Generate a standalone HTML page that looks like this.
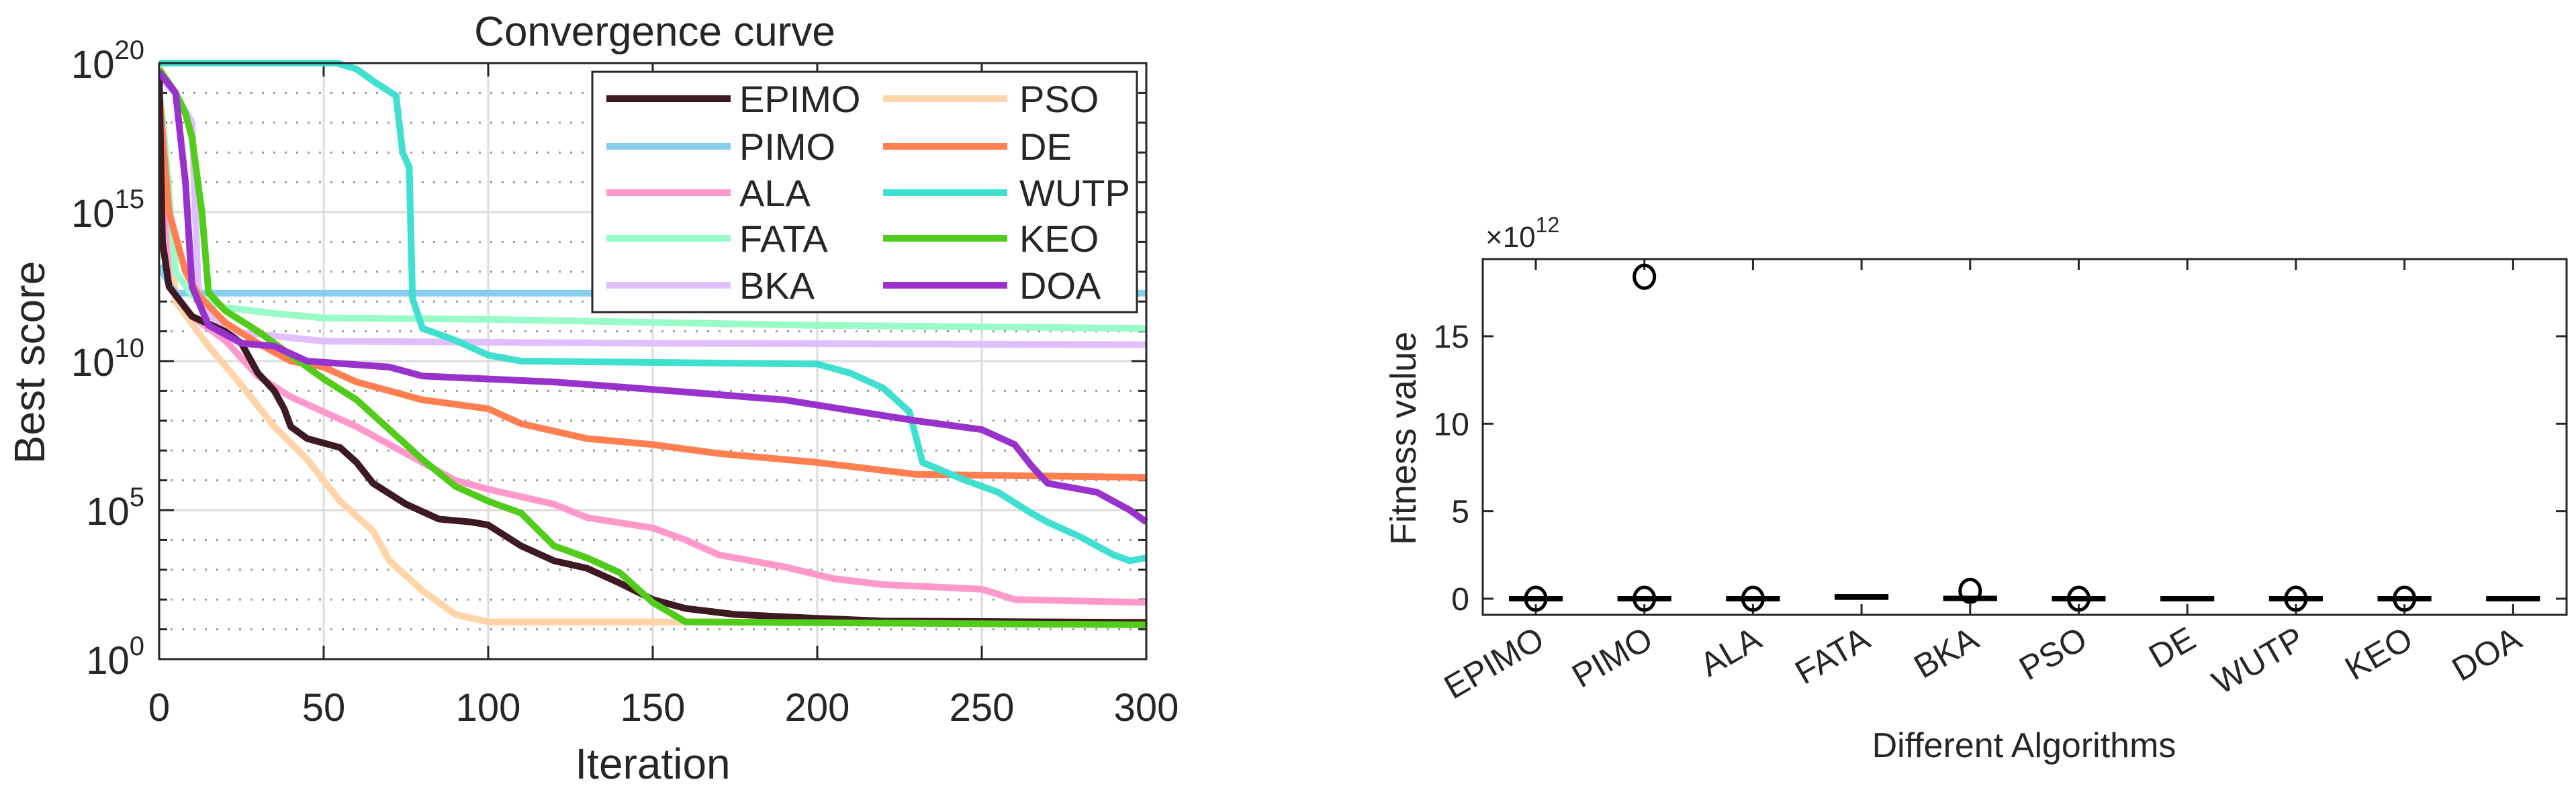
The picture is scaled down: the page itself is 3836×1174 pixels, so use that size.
<!DOCTYPE html>
<html><head><meta charset="utf-8"><style>
html,body{margin:0;padding:0;background:#fff}
svg{display:block}
text{font-family:"Liberation Sans",Arial,sans-serif;fill:#262626}
</style></head><body>
<svg id="svg" width="3836" height="1174" viewBox="0 0 3836 1174" xmlns="http://www.w3.org/2000/svg">
<g id="left"></g>
<g id="right"></g>
</svg>
<script>
// ---- Convergence chart data (iteration, log10 best score) ----
const xTicks=[0,50,100,150,200,250,300];
const yTickExp=[0,5,10,15,20];
const seriesNames=["EPIMO","PIMO","ALA","FATA","BKA","PSO","DE","WUTP","KEO","DOA"];
const seriesColors=["#3d1a22","#87ceeb","#ff99cc","#98fbc8","#e0bfff","#ffd4a8","#ff7f50","#40e0d0","#52cc1a","#9932cc"];
const itEPIMO=[0,1,3,10,20,25,30,35,38,40,45,55,60,65,75,85,95,100,110,120,130,140,150,160,175,200,220,300];
const vEPIMO=[19.7,14,12.5,11.5,11.0,10.6,9.6,9.0,8.4,7.8,7.4,7.1,6.6,5.9,5.2,4.7,4.6,4.5,3.8,3.3,3.05,2.55,2.0,1.7,1.5,1.37,1.28,1.23];
const itPIMO=[0,3,5,300];
const vPIMO=[13.2,12.6,12.28,12.28];
const itALA=[0,1,3,10,20,30,40,50,60,70,80,90,100,120,130,150,160,170,190,205,220,250,260,300];
const vALA=[18.1,16,12.5,11.5,10.7,9.5,8.8,8.3,7.8,7.2,6.6,6.0,5.7,5.2,4.75,4.4,4.0,3.5,3.1,2.7,2.5,2.35,2.0,1.9];
const itFATA=[0,2,5,10,20,35,50,100,150,200,300];
const vFATA=[19.2,17,13,12.2,11.8,11.6,11.45,11.4,11.3,11.2,11.1];
const itBKA=[0,5,8,10,12,20,30,50,150,300];
const vBKA=[19.5,19.0,18.4,18.0,12,11.0,10.9,10.67,10.6,10.55];
const itPSO=[0,3,5,15,25,35,45,55,65,70,80,90,100,300];
const vPSO=[16.5,15,12.0,10.5,9.2,7.8,6.7,5.3,4.3,3.3,2.3,1.5,1.25,1.25];
const itDE=[0,3,8,12,20,30,40,50,60,80,100,110,130,150,170,200,230,300];
const vDE=[19,15,13,12.2,11.3,10.6,10.0,9.8,9.3,8.7,8.4,7.9,7.4,7.2,6.9,6.6,6.2,6.1];
const itWUTP=[0,54,60,65,72,74,76,77,80,90,100,110,200,210,220,228,232,245,255,265,270,280,290,295,300];
const vWUTP=[20,20,19.8,19.4,18.9,17.0,16.5,12.1,11.1,10.7,10.2,10.0,9.9,9.6,9.1,8.3,6.6,6.0,5.6,4.9,4.6,4.1,3.5,3.3,3.4];
const itKEO=[0,5,8,10,12,13,15,20,30,40,50,60,70,80,90,100,110,120,130,140,150,160,300];
const vKEO=[19.8,19.0,18.3,17.5,15.8,15.0,12.3,11.7,11.0,10.2,9.4,8.7,7.7,6.7,5.8,5.3,4.9,3.8,3.4,2.9,1.9,1.25,1.15];
const itDOA=[0,5,8,10,15,25,35,45,70,80,120,150,190,210,230,250,260,265,270,285,295,300];
const vDOA=[19.7,19.0,16.0,12.5,11.2,10.6,10.5,10.0,9.8,9.5,9.3,9.05,8.7,8.35,8.0,7.7,7.2,6.5,5.9,5.6,5.0,4.6];
const seriesIt=[itEPIMO,itPIMO,itALA,itFATA,itBKA,itPSO,itDE,itWUTP,itKEO,itDOA];
const seriesV=[vEPIMO,vPIMO,vALA,vFATA,vBKA,vPSO,vDE,vWUTP,vKEO,vDOA];
const drawOrder=[5,1,2,3,4,6,7,0,8,9];

// ---- Boxplot data (×10^12) ----
const boxCats=["EPIMO","PIMO","ALA","FATA","BKA","PSO","DE","WUTP","KEO","DOA"];
const boxMedian=[0,0,0,0.1,0.02,0,0,0,0,0];
const boxQ1=[0,0,0,0.05,0,0,0,0,0,0];
const boxQ3=[0,0,0,0.15,0.05,0,0,0,0,0];
const outlierCat=[0,1,1,2,4,5,7,8];
const outlierVal=[0,0,18.4,0,0.45,0,0,0];
const boxYTicks=[0,5,10,15];

const NS="http://www.w3.org/2000/svg";
function mk(parent,tag,attrs,txt){const e=document.createElementNS(NS,tag);for(const k in attrs)e.setAttribute(k,attrs[k]);if(txt!==undefined)e.textContent=txt;parent.appendChild(e);return e;}

// ===== Left chart =====
const L=document.getElementById('left');
const x0=237,x1=1707,y0=982,y1=94;
const xs=v=>x0+(v-0)/(300-0)*(x1-x0);
const ys=d=>y0-(d-0)/(20-0)*(y0-y1);
for(let d=1;d<20;d++){if(d%5===0)continue;
 const g=mk(L,'line',{x1:x0,x2:x1,y1:ys(d),y2:ys(d),stroke:'#9a9a9a','stroke-width':3,'stroke-dasharray':'3 14'});
 
 const t1=mk(L,'line',{x1:x0,x2:x0+12,y1:ys(d),y2:ys(d),stroke:'#262626','stroke-width':3});
 
 const t2=mk(L,'line',{x1:x1,x2:x1-12,y1:ys(d),y2:ys(d),stroke:'#262626','stroke-width':3});
 
}
yTickExp.forEach(d=>{
 const g=mk(L,'line',{x1:x0,x2:x1,y1:ys(d),y2:ys(d),stroke:'#dcdcdc','stroke-width':3});
 
 const t=mk(L,'text',{x:x0-22,y:ys(d)+22,'text-anchor':'end','font-size':58});
 
 mk(t,'tspan',{},'10');mk(t,'tspan',{dy:-28,'font-size':40},String(d));
 mk(L,'line',{x1:x0,x2:x0+22,y1:ys(d),y2:ys(d),stroke:'#262626','stroke-width':3});
 mk(L,'line',{x1:x1,x2:x1-22,y1:ys(d),y2:ys(d),stroke:'#262626','stroke-width':3});
});
xTicks.forEach(v=>{
 const g=mk(L,'line',{x1:xs(v),x2:xs(v),y1:y0,y2:y1,stroke:'#dcdcdc','stroke-width':3});
 
 mk(L,'line',{x1:xs(v),x2:xs(v),y1:y0,y2:y0-20,stroke:'#262626','stroke-width':3});
 mk(L,'line',{x1:xs(v),x2:xs(v),y1:y1,y2:y1+20,stroke:'#262626','stroke-width':3});
 const t=mk(L,'text',{x:xs(v),y:1074,'text-anchor':'middle','font-size':58},String(v));
 
});
const clip=mk(L,'clipPath',{id:'lc'});mk(clip,'rect',{x:x0,y:y1-5,width:x1-x0+5,height:y0-y1+5});
drawOrder.forEach(i=>{
 const pts=seriesIt[i].map((it,k)=>xs(it).toFixed(1)+','+ys(seriesV[i][k]).toFixed(1)).join(' ');
 const p=mk(L,'polyline',{points:pts,fill:'none',stroke:seriesColors[i],'stroke-width':10,'stroke-linejoin':'round','clip-path':'url(#lc)'});
 
 
});
const frame=mk(L,'rect',{x:x0,y:y1,width:x1-x0,height:y0-y1,fill:'none',stroke:'#262626','stroke-width':3});

const title=mk(L,'text',{x:975,y:68,'text-anchor':'middle','font-size':62},'Convergence curve');

const xl=mk(L,'text',{x:972,y:1160,'text-anchor':'middle','font-size':64},'Iteration');

const yl=mk(L,'text',{x:0,y:0,'text-anchor':'middle','font-size':64,transform:'translate(66,540) rotate(-90)'},'Best score');

const lg=mk(L,'g',{});

mk(lg,'rect',{x:882,y:107,width:811,height:358,fill:'#fff',stroke:'#262626','stroke-width':3});
const rowsY=[147,218,287,355,425];
seriesNames.forEach((n,i)=>{
 const col=Math.floor(i/5),row=i%5;
 const lx=col?1315:903, tx=col?1518:1101;
 const e=mk(lg,'g',{});
 
 mk(e,'line',{x1:lx,x2:lx+185,y1:rowsY[row],y2:rowsY[row],stroke:seriesColors[i],'stroke-width':10});
 mk(e,'text',{x:tx,y:rowsY[row]+20,'font-size':56},n);
});

// ===== Right chart =====
const R=document.getElementById('right');
const bx0=2208,bx1=3822,by0=916,by1=386;
const bys=v=>892-v*26.07;
const bxs=i=>2287+i*161.7;
const bframe=mk(R,'rect',{x:bx0,y:by1,width:bx1-bx0,height:by0-by1,fill:'none',stroke:'#262626','stroke-width':3});

boxYTicks.forEach(v=>{
 mk(R,'line',{x1:bx0,x2:bx0+16,y1:bys(v),y2:bys(v),stroke:'#262626','stroke-width':3});
 mk(R,'line',{x1:bx1,x2:bx1-16,y1:bys(v),y2:bys(v),stroke:'#262626','stroke-width':3});
 const t=mk(R,'text',{x:bx0-20,y:bys(v)+17,'text-anchor':'end','font-size':48},String(v));
 
});
const ex=mk(R,'text',{x:2212,y:368,'font-size':44});

mk(ex,'tspan',{},'×10');mk(ex,'tspan',{dy:-22,'font-size':32},'12');
boxCats.forEach((c,i)=>{
 const x=bxs(i);
 mk(R,'line',{x1:x,x2:x,y1:by1,y2:by1+16,stroke:'#262626','stroke-width':3});
 mk(R,'line',{x1:x,x2:x,y1:by0,y2:by0-16,stroke:'#262626','stroke-width':3});
 const b=mk(R,'rect',{x:x-40,y:bys(boxQ3[i])-3,width:80,height:Math.max(6,bys(boxQ1[i])-bys(boxQ3[i])+6),fill:'#000'});
 
 const m=mk(R,'line',{x1:x-40,x2:x+40,y1:bys(boxMedian[i]),y2:bys(boxMedian[i]),stroke:'#000','stroke-width':8});
 
 const t=mk(R,'text',{x:0,y:0,'text-anchor':'end','font-size':50,transform:`translate(${x+16},${962}) rotate(-30)`},c);
 
});
outlierCat.forEach((ci,k)=>{
 const o=mk(R,'ellipse',{cx:bxs(ci),cy:bys(outlierVal[k]),rx:15,ry:17,fill:'none',stroke:'#000','stroke-width':5});
 
});
const bxl=mk(R,'text',{x:3014,y:1128,'text-anchor':'middle','font-size':52},'Different Algorithms');

const byl=mk(R,'text',{x:0,y:0,'text-anchor':'middle','font-size':54,transform:'translate(2108,653) rotate(-90)'},'Fitness value');

</script>
</body></html>
